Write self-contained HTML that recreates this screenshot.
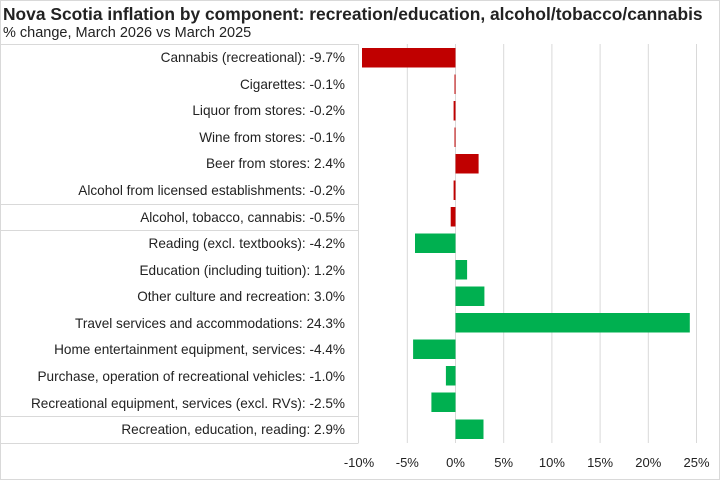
<!DOCTYPE html>
<html><head><meta charset="utf-8"><style>
body{margin:0;background:#fff;}
svg text{font-family:"Liberation Sans",sans-serif;fill:#222;}
</style></head><body>
<svg width="721" height="481" viewBox="0 0 721 481" xmlns="http://www.w3.org/2000/svg">
<rect x="0.5" y="0.5" width="719" height="479" fill="#fff" stroke="#d9d9d9"/>
<text x="3" y="20" font-size="17.4" font-weight="bold" fill="#000">Nova Scotia inflation by component: recreation/education, alcohol/tobacco/cannabis</text>
<text x="3" y="37" font-size="14.5">% change, March 2026 vs March 2025</text>
<g stroke="#d9d9d9" stroke-width="1">
<line x1="407.3" y1="44" x2="407.3" y2="443"/>
<line x1="455.5" y1="44" x2="455.5" y2="443"/>
<line x1="503.7" y1="44" x2="503.7" y2="443"/>
<line x1="551.9" y1="44" x2="551.9" y2="443"/>
<line x1="600.1" y1="44" x2="600.1" y2="443"/>
<line x1="648.3" y1="44" x2="648.3" y2="443"/>
<line x1="696.5" y1="44" x2="696.5" y2="443"/>
<polyline points="358.5,44.5 0.5,44.5 0.5,443.5 358.5,443.5" fill="none"/>
<line x1="358.5" y1="44" x2="358.5" y2="443"/>
<line x1="0" y1="204.5" x2="358" y2="204.5"/>
<line x1="0" y1="230.5" x2="358" y2="230.5"/>
<line x1="0" y1="416.5" x2="358" y2="416.5"/>
</g>
<g font-size="13.6" text-anchor="end">
<text x="345" y="62">Cannabis (recreational):  -9.7%</text>
<text x="345" y="89">Cigarettes:  -0.1%</text>
<text x="345" y="115">Liquor from stores:  -0.2%</text>
<text x="345" y="142">Wine from stores:  -0.1%</text>
<text x="345" y="168">Beer from stores:  2.4%</text>
<text x="345" y="195">Alcohol from licensed establishments:  -0.2%</text>
<text x="345" y="222">Alcohol, tobacco, cannabis:  -0.5%</text>
<text x="345" y="248">Reading (excl. textbooks):  -4.2%</text>
<text x="345" y="275">Education (including tuition):  1.2%</text>
<text x="345" y="301">Other culture and recreation:  3.0%</text>
<text x="345" y="328">Travel services and accommodations:  24.3%</text>
<text x="345" y="354">Home entertainment equipment, services:  -4.4%</text>
<text x="345" y="381">Purchase, operation of recreational vehicles:  -1.0%</text>
<text x="345" y="408">Recreational equipment, services (excl. RVs):  -2.5%</text>
<text x="345" y="434">Recreation, education, reading:  2.9%</text>
</g>
<g fill="#c00000">
<rect x="362" y="48" width="93.5" height="19.5"/>
<rect x="454.5" y="74.5" width="1" height="19.5"/>
<rect x="453.6" y="101" width="1.9" height="19.5"/>
<rect x="454.5" y="127.5" width="1" height="19.5"/>
<rect x="455.5" y="154" width="23.1" height="19.5"/>
<rect x="453.6" y="180.5" width="1.9" height="19.5"/>
<rect x="450.7" y="207" width="4.8" height="19.5"/>
</g>
<g fill="#00b050">
<rect x="415" y="233.5" width="40.5" height="19.5"/>
<rect x="455.5" y="260" width="11.6" height="19.5"/>
<rect x="455.5" y="286.5" width="28.9" height="19.5"/>
<rect x="455.5" y="313" width="234.3" height="19.5"/>
<rect x="413.1" y="339.5" width="42.4" height="19.5"/>
<rect x="445.9" y="366" width="9.6" height="19.5"/>
<rect x="431.4" y="392.5" width="24.1" height="19.5"/>
<rect x="455.5" y="419.5" width="28" height="19.5"/>
</g>
<g font-size="13" text-anchor="middle">
<text x="359" y="467">-10%</text>
<text x="407.3" y="467">-5%</text>
<text x="455.5" y="467">0%</text>
<text x="503.7" y="467">5%</text>
<text x="551.9" y="467">10%</text>
<text x="600.1" y="467">15%</text>
<text x="648.3" y="467">20%</text>
<text x="696.5" y="467">25%</text>
</g>
</svg>
</body></html>
